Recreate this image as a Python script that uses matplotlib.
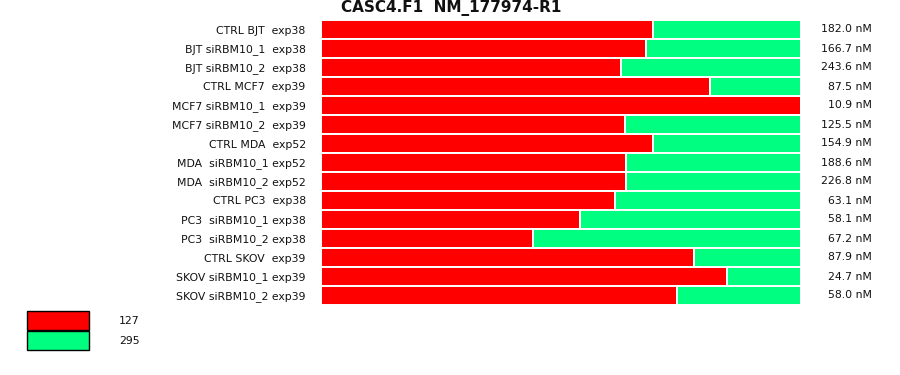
import matplotlib
matplotlib.use("Agg")
import matplotlib.pyplot as plt
from matplotlib.patches import Rectangle

# sample labels, top to bottom
samples = [
    "CTRL BJT  exp38", "BJT siRBM10_1  exp38", "BJT siRBM10_2  exp38",
    "CTRL MCF7  exp39", "MCF7 siRBM10_1  exp39", "MCF7 siRBM10_2  exp39",
    "CTRL MDA  exp52", "MDA  siRBM10_1 exp52", "MDA  siRBM10_2 exp52",
    "CTRL PC3  exp38", "PC3  siRBM10_1 exp38", "PC3  siRBM10_2 exp38",
    "CTRL SKOV  exp39", "SKOV siRBM10_1 exp39", "SKOV siRBM10_2 exp39",
]
# fraction of isoform 127 (red); the rest is 295 (green)
frac_127 = [0.692, 0.677, 0.625, 0.810, 1.000, 0.633, 0.692, 0.635,
            0.635, 0.6125, 0.540, 0.442, 0.777, 0.846, 0.742]
conc = ["182.0 nM", "166.7 nM", "243.6 nM", "87.5 nM", "10.9 nM",
        "125.5 nM", "154.9 nM", "188.6 nM", "226.8 nM", "63.1 nM",
        "58.1 nM", "67.2 nM", "87.9 nM", "24.7 nM", "58.0 nM"]
legend_labels = ["127", "295"]
colors = ["#ff0000", "#00ff80"]

fig = plt.figure(figsize=(9, 3.75), dpi=100)
ax = fig.add_axes([321 / 900, 1 - 305 / 375, 480 / 900, 285 / 375])

y = list(range(len(samples)))
frac_295 = [1 - f for f in frac_127]
ax.barh(y, frac_127, height=1.0, color=colors[0], edgecolor="white", linewidth=1.4)
ax.barh(y, frac_295, left=frac_127, height=1.0, color=colors[1],
        edgecolor="white", linewidth=1.4)

ax.set_xlim(0, 1)
ax.set_ylim(len(samples) - 0.5, -0.5)
ax.set_yticks(y)
ax.set_yticklabels(samples, fontsize=7.8, color="#111111")
ax.tick_params(axis="y", length=0, pad=11)
ax.set_xticks([])
for s in ax.spines.values():
    s.set_visible(False)

for yi, c in zip(y, conc):
    ax.text(1.148, yi, c, ha="right", va="center", fontsize=7.8,
            color="#111111", clip_on=False)

fig.text(451 / 900, 1 - 8 / 375, "CASC4.F1  NM_177974-R1", ha="center",
         va="center", fontsize=11, fontweight="bold", color="#111111")

# legend boxes
for i, (lab, col) in enumerate(zip(legend_labels, colors)):
    top = 311 + i * 20
    fig.patches.append(Rectangle((27 / 900, 1 - (top + 19) / 375), 62 / 900, 19 / 375,
                                 facecolor=col, edgecolor="black", linewidth=1,
                                 transform=fig.transFigure))
    fig.text(119 / 900, 1 - (top + 10) / 375, lab, ha="left", va="center",
             fontsize=7.8, color="#111111")

fig.savefig("out.png", dpi=100)
